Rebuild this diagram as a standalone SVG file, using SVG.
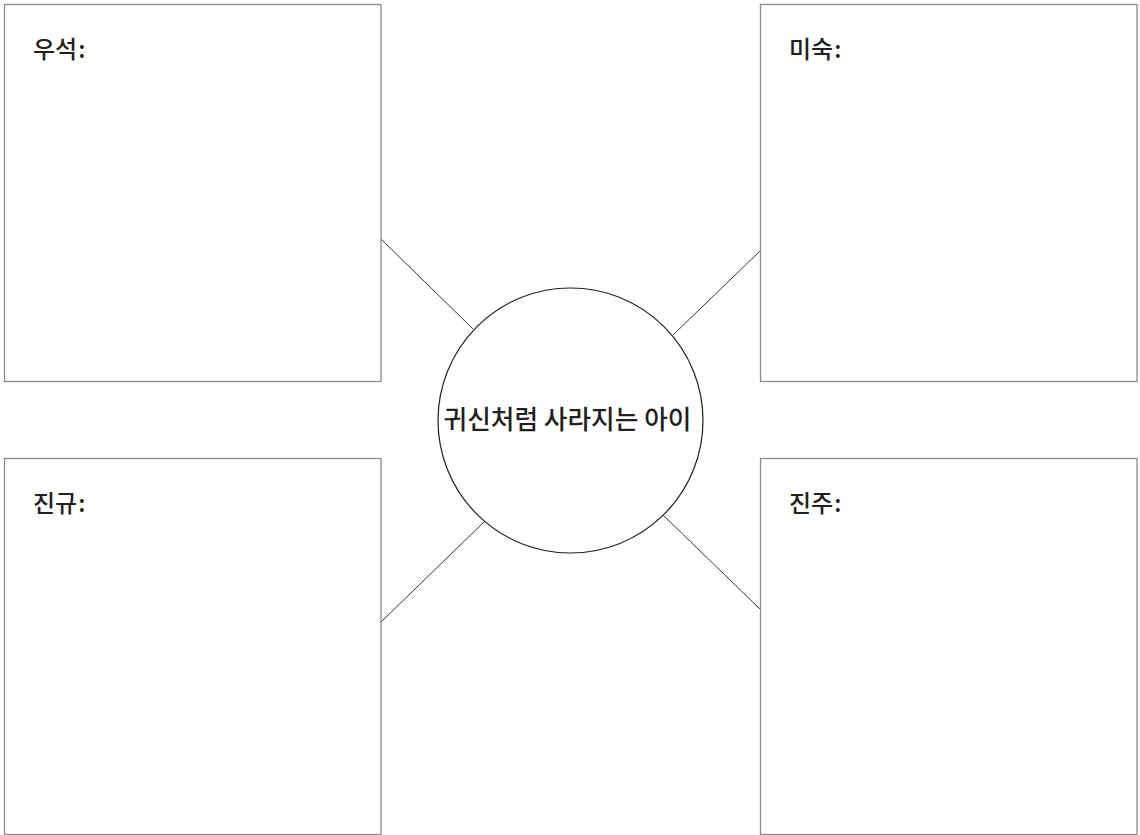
<svg xmlns="http://www.w3.org/2000/svg" width="1140" height="835" viewBox="0 0 1140 835">
<style>
.box{fill:#fff;stroke:#8a8a8a;stroke-width:1.3}
.lbl{font-family:"Noto Sans CJK KR","Noto Sans",sans-serif;font-size:24px;font-weight:500;fill:#231f20}
.title{font-size:25.7px}
.conn{stroke:#333;stroke-width:1;fill:none}
.hub{fill:#fff;stroke:#231f20;stroke-width:1.2}
</style>
<rect width="1140" height="835" fill="#fff"/>
<g id="connectors">
<line class="conn" x1="381" y1="239" x2="473" y2="329"/>
<line class="conn" x1="760" y1="251" x2="673" y2="335"/>
<line class="conn" x1="381" y1="622" x2="485" y2="521"/>
<line class="conn" x1="663" y1="515" x2="760" y2="609"/>
</g>
<g id="box-useok">
<rect class="box" x="4.5" y="4.5" width="376.5" height="377"/>
<text class="lbl" x="33" y="58">우석<tspan dx="1">:</tspan></text>
</g>
<g id="box-misuk">
<rect class="box" x="760.5" y="4.5" width="376.5" height="377"/>
<text class="lbl" x="789" y="58">미숙<tspan dx="1">:</tspan></text>
</g>
<g id="box-jingyu">
<rect class="box" x="4.5" y="458.5" width="376.5" height="376"/>
<text class="lbl" x="33" y="512">진규<tspan dx="1">:</tspan></text>
</g>
<g id="box-jinju">
<rect class="box" x="760.5" y="458.5" width="376.5" height="376"/>
<text class="lbl" x="789" y="512">진주<tspan dx="1">:</tspan></text>
</g>
<g id="hub">
<circle class="hub" cx="570.5" cy="420.5" r="132.5"/>
<text class="lbl title" x="567.5" y="429" text-anchor="middle">귀신처럼 사라지는 아이</text>
</g>
</svg>
